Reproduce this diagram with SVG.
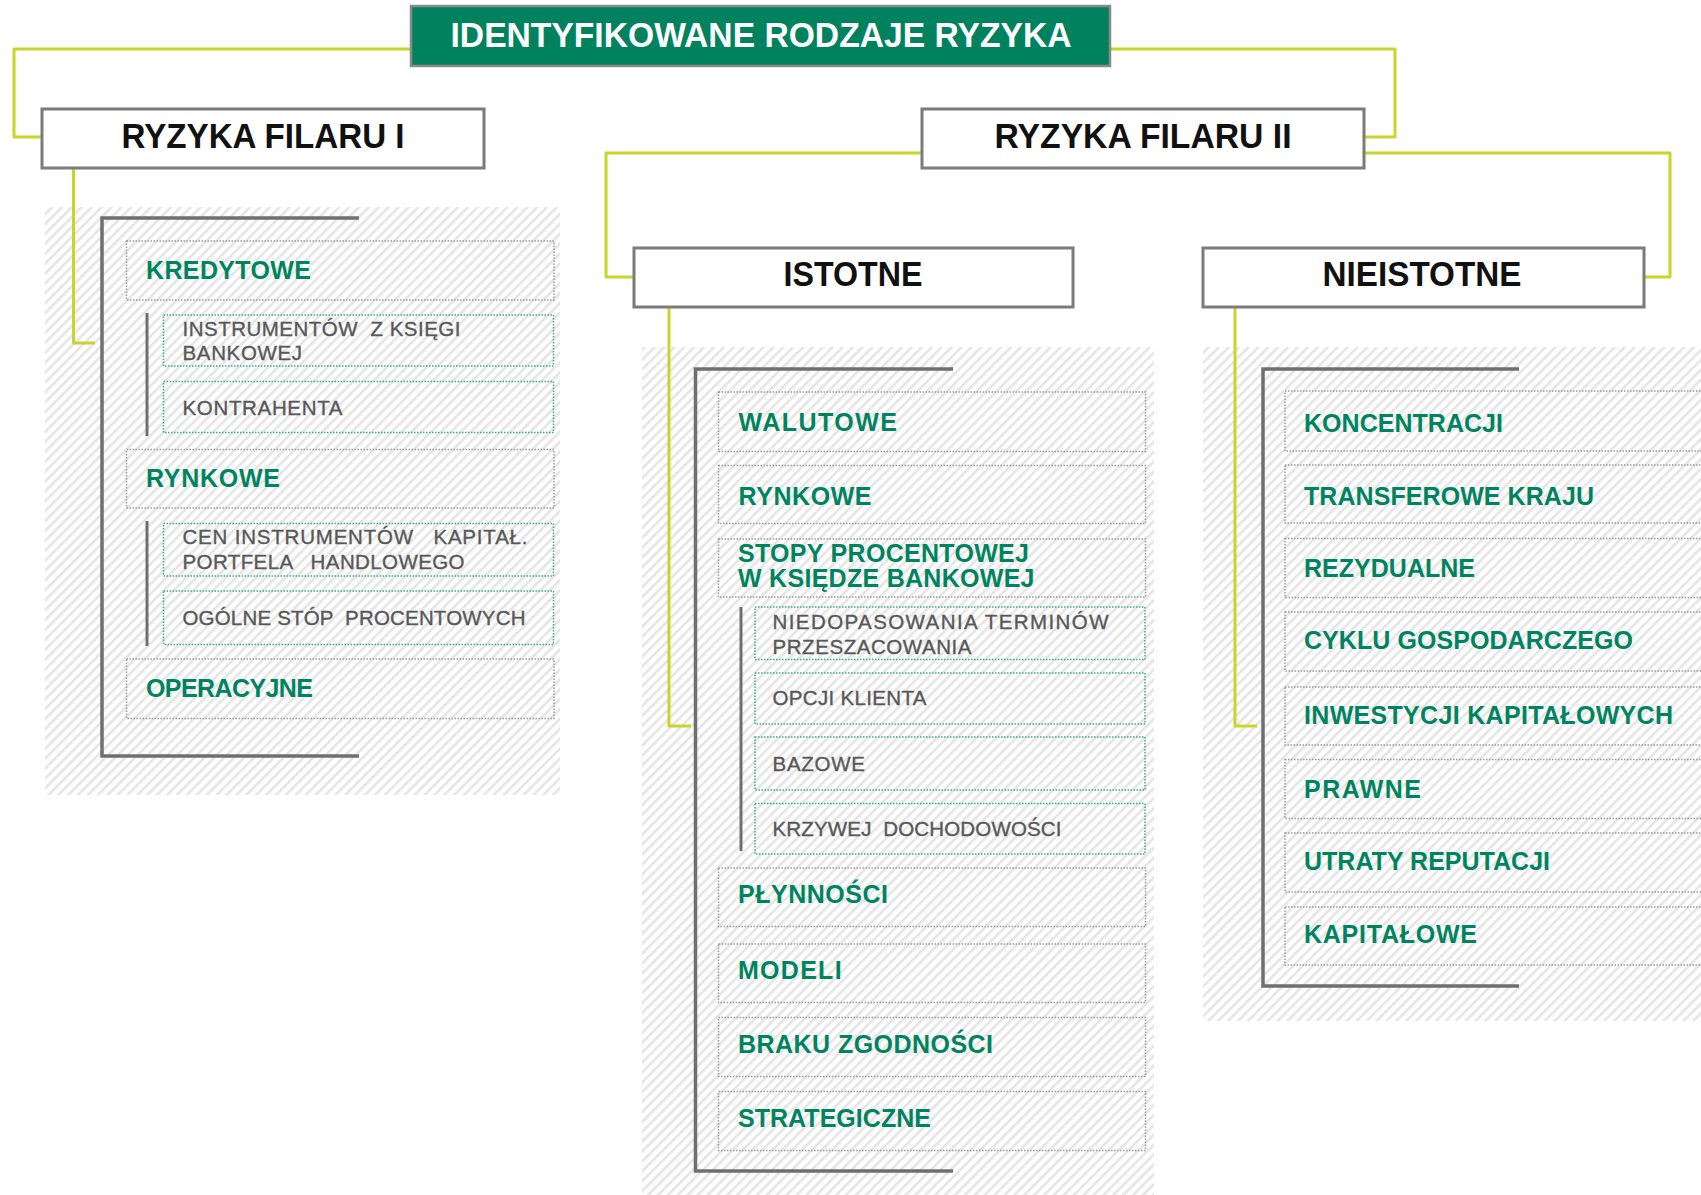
<svg xmlns="http://www.w3.org/2000/svg" width="1701" height="1195" viewBox="0 0 1701 1195">
<defs>
<pattern id="hatch" width="7" height="7" patternUnits="userSpaceOnUse" patternTransform="rotate(45)">
<rect width="7" height="7" fill="#ffffff"/>
<rect width="2.6" height="7" fill="#e5e5e5"/>
</pattern>
<style>
text{font-family:"Liberation Sans",Arial,sans-serif}
.panel{fill:url(#hatch)}
.conn{fill:none;stroke:#c9d52b;stroke-width:3;stroke-linejoin:round}
.bracket{fill:none;stroke:#6f6f6f;stroke-width:3.5}
.subbar{stroke:#6f6f6f;stroke-width:3}
.title rect{fill:#00825f;stroke:#8a8a8a;stroke-width:2.5}
.title text{font-weight:bold;font-size:35px;fill:#ffffff;text-anchor:middle}
.hdr rect{fill:#ffffff;stroke:#7b7b7b;stroke-width:3}
.hdr text{font-weight:bold;font-size:35px;fill:#111111;text-anchor:middle}
.l1 rect{fill:none;stroke:#9a9a9a;stroke-width:1.5;stroke-dasharray:1.5 1.5}
.l1 text{font-weight:bold;font-size:25px;fill:#00845f}
.l2 rect{fill:none;stroke:#3aab8b;stroke-width:1.5;stroke-dasharray:1.5 1.5}
.l2 text{font-size:20.5px;fill:#585858;stroke:#585858;stroke-width:0.35}
</style>
</defs>

<g id="panels">
<rect class="panel" x="45" y="207" width="515" height="588"/>
<rect class="panel" x="642" y="347" width="512" height="848"/>
<rect class="panel" x="1203" y="347" width="498" height="674"/>
</g>

<g id="connectors">
<path class="conn" d="M411,49 H14 V137 H42"/>
<path class="conn" d="M1110,49 H1395 V137 H1365"/>
<path class="conn" d="M922,153 H606 V277 H634"/>
<path class="conn" d="M1364,153 H1670 V277 H1644"/>
<path class="conn" d="M73.5,168 V343 H95"/>
<path class="conn" d="M669,307 V726 H691"/>
<path class="conn" d="M1235,307 V726 H1257"/>
</g>

<g id="brackets">
<path class="bracket" d="M359,218 H102 V756 H359"/>
<path class="bracket" d="M953,369 H695.5 V1171 H953"/>
<path class="bracket" d="M1519,369 H1263 V986 H1519"/>
<line class="subbar" x1="147" y1="313" x2="147" y2="436"/>
<line class="subbar" x1="147" y1="521" x2="147" y2="646"/>
<line class="subbar" x1="741" y1="607" x2="741" y2="851"/>
</g>

<g id="title" class="title">
<rect x="411" y="6" width="699" height="60"/>
<text x="761" y="47" textLength="621" lengthAdjust="spacingAndGlyphs">IDENTYFIKOWANE RODZAJE RYZYKA</text>
</g>

<g id="filar1" class="hdr">
<rect x="42" y="109" width="442" height="59"/>
<text x="263" y="148" textLength="283" lengthAdjust="spacingAndGlyphs">RYZYKA FILARU I</text>
</g>
<g id="filar2" class="hdr">
<rect x="922" y="109" width="442" height="59"/>
<text x="1143" y="148" textLength="297" lengthAdjust="spacingAndGlyphs">RYZYKA FILARU II</text>
</g>
<g id="istotne" class="hdr">
<rect x="634" y="248" width="439" height="59"/>
<text x="853" y="286" textLength="139" lengthAdjust="spacingAndGlyphs">ISTOTNE</text>
</g>
<g id="nieistotne" class="hdr">
<rect x="1203" y="248" width="441" height="59"/>
<text x="1422" y="286" textLength="199" lengthAdjust="spacingAndGlyphs">NIEISTOTNE</text>
</g>

<g id="p1-kredytowe" class="l1">
<rect x="126.5" y="241" width="427.5" height="59"/>
<text x="146" y="278.5" textLength="165">KREDYTOWE</text>
</g>
<g id="p1-instrumentow" class="l2">
<rect x="163.5" y="315" width="390" height="51"/>
<text x="182.5" y="336" textLength="278" xml:space="preserve">INSTRUMENTÓW  Z KSIĘGI</text>
<text x="182.5" y="360" textLength="119.5">BANKOWEJ</text>
</g>
<g id="p1-kontrahenta" class="l2">
<rect x="163.5" y="381.5" width="390" height="51"/>
<text x="182.5" y="415" textLength="160">KONTRAHENTA</text>
</g>
<g id="p1-rynkowe" class="l1">
<rect x="126.5" y="449.5" width="427.5" height="58.5"/>
<text x="146" y="487" textLength="134">RYNKOWE</text>
</g>
<g id="p1-cen" class="l2">
<rect x="163.5" y="523.5" width="390" height="52.5"/>
<text x="182.5" y="544" textLength="345" xml:space="preserve">CEN INSTRUMENTÓW   KAPITAŁ.</text>
<text x="182.5" y="568.5" textLength="282" xml:space="preserve">PORTFELA   HANDLOWEGO</text>
</g>
<g id="p1-ogolne" class="l2">
<rect x="163.5" y="591" width="390" height="53.5"/>
<text x="182.5" y="625" textLength="343" xml:space="preserve">OGÓLNE STÓP  PROCENTOWYCH</text>
</g>
<g id="p1-operacyjne" class="l1">
<rect x="126.5" y="659" width="427.5" height="59.5"/>
<text x="146" y="697" textLength="167">OPERACYJNE</text>
</g>

<g id="p2-walutowe" class="l1">
<rect x="718.5" y="392" width="427" height="59.5"/>
<text x="738.5" y="431" textLength="158.5">WALUTOWE</text>
</g>
<g id="p2-rynkowe" class="l1">
<rect x="718.5" y="465.5" width="427" height="58"/>
<text x="738.5" y="505" textLength="133">RYNKOWE</text>
</g>
<g id="p2-stopy" class="l1">
<rect x="718.5" y="539" width="427" height="58"/>
<text x="738" y="561.5" textLength="291">STOPY PROCENTOWEJ</text>
<text x="738" y="587" textLength="296.5">W KSIĘDZE BANKOWEJ</text>
</g>
<g id="p2-niedopasowania" class="l2">
<rect x="755" y="607" width="390" height="52.5"/>
<text x="772.5" y="629" textLength="336">NIEDOPASOWANIA TERMINÓW</text>
<text x="772.5" y="654" textLength="199">PRZESZACOWANIA</text>
</g>
<g id="p2-opcji" class="l2">
<rect x="755" y="673" width="390" height="51"/>
<text x="772.5" y="705" textLength="154">OPCJI KLIENTA</text>
</g>
<g id="p2-bazowe" class="l2">
<rect x="755" y="737" width="390" height="53"/>
<text x="772.5" y="771" textLength="92.5">BAZOWE</text>
</g>
<g id="p2-krzywej" class="l2">
<rect x="755" y="803.5" width="390" height="50.5"/>
<text x="772.5" y="836" textLength="289" xml:space="preserve">KRZYWEJ  DOCHODOWOŚCI</text>
</g>
<g id="p2-plynnosci" class="l1">
<rect x="718.5" y="868" width="427" height="58.5"/>
<text x="738" y="903" textLength="150">PŁYNNOŚCI</text>
</g>
<g id="p2-modeli" class="l1">
<rect x="718.5" y="944" width="427" height="58.5"/>
<text x="738" y="979" textLength="103.6">MODELI</text>
</g>
<g id="p2-braku" class="l1">
<rect x="718.5" y="1017.5" width="427" height="59"/>
<text x="738" y="1053" textLength="255">BRAKU ZGODNOŚCI</text>
</g>
<g id="p2-strategiczne" class="l1">
<rect x="718.5" y="1091.5" width="427" height="59"/>
<text x="738" y="1127" textLength="193">STRATEGICZNE</text>
</g>

<g id="p3-koncentracji" class="l1">
<rect x="1285" y="391" width="450" height="60"/>
<text x="1304" y="431.5" textLength="199">KONCENTRACJI</text>
</g>
<g id="p3-transferowe" class="l1">
<rect x="1285" y="465" width="450" height="58"/>
<text x="1304" y="505" textLength="290">TRANSFEROWE KRAJU</text>
</g>
<g id="p3-rezydualne" class="l1">
<rect x="1285" y="538.5" width="450" height="59"/>
<text x="1304" y="577" textLength="171">REZYDUALNE</text>
</g>
<g id="p3-cyklu" class="l1">
<rect x="1285" y="612" width="450" height="59"/>
<text x="1304" y="648.5" textLength="329">CYKLU GOSPODARCZEGO</text>
</g>
<g id="p3-inwestycji" class="l1">
<rect x="1285" y="687" width="450" height="58"/>
<text x="1304" y="723.5" textLength="369">INWESTYCJI KAPITAŁOWYCH</text>
</g>
<g id="p3-prawne" class="l1">
<rect x="1285" y="759.5" width="450" height="59"/>
<text x="1304" y="797.5" textLength="117">PRAWNE</text>
</g>
<g id="p3-utraty" class="l1">
<rect x="1285" y="833" width="450" height="59"/>
<text x="1304" y="869.5" textLength="246">UTRATY REPUTACJI</text>
</g>
<g id="p3-kapitalowe" class="l1">
<rect x="1285" y="907" width="450" height="58"/>
<text x="1304" y="943" textLength="173">KAPITAŁOWE</text>
</g>
</svg>
